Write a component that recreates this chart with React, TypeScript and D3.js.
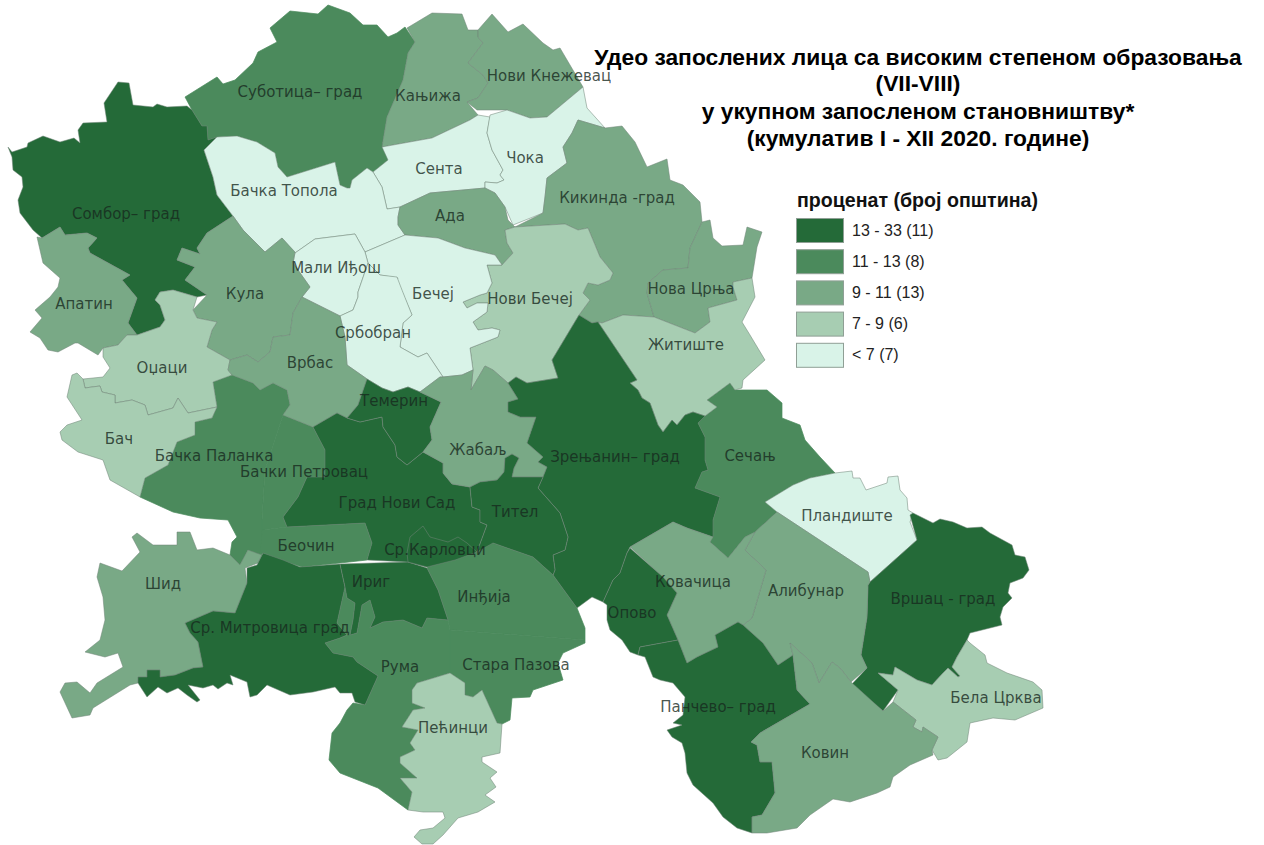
import React from "react";
import * as d3 from "d3";

const titleLines = [
  "Удео запослених лица са високим степеном образовања",
  "(VII-VIII)",
  "у укупном запосленом становништву*",
  "(кумулатив I - XII 2020. године)",
];
const legendTitle = "проценат (број општина)";
const classes = ["13 - 33 (11)", "11 - 13 (8)", "9 - 11 (13)", "7 - 9 (6)", "< 7 (7)"];
const classColors = ["#246a38", "#4b8a5c", "#79a986", "#a7cdb2", "#d9f3e8"];

const municipalities: [string, number, string][] = [
  ["Суботица– град", 1, "185,97 217,77 223,84 235,80 253,63 258,52 277,42 270,28 290,11 318,14 328,5 350,13 363,25 377,25 388,37 397,33 405,27 415,42 408,53 403,80 387,117 382,147 383,143 388,160 373,172 367,168 352,180 350,188 347,188 340,185 335,162 287,177 278,167 275,153 257,142 237,136 217,137 208,140 207,126 202,126 192,110"],
  ["Бачка Паланка", 1, "213,382 232,375 253,383 260,390 273,383 287,390 290,405 283,415 265,470 262,520 265,530 260,557 248,550 240,565 230,555 232,542 237,537 228,520 200,518 173,512 140,497 145,478 168,465 177,442 195,435 195,422 212,418 217,407"],
  ["Бачки Петровац", 1, "283,415 313,427 325,450 325,477 307,477 298,497 283,517 287,527 262,530 262,520 265,470"],
  ["Беочин", 1, "262,530 287,527 365,523 372,543 367,560 340,563 302,567 280,560 263,553 260,557"],
  ["Рума", 1, "345,587 347,598 355,603 353,620 350,635 357,633 362,605 370,600 375,617 370,628 383,622 403,620 422,628 427,618 448,620 450,630 450,673 417,683 412,690 412,703 425,708 413,710 402,727 418,730 410,743 415,750 400,757 400,763 417,778 400,778 412,792 408,810 378,788 340,773 329,760 332,733 340,723 347,710 353,703 365,705 378,676 357,662 353,657 333,653 325,643 340,638 347,635 337,623"],
  ["Инђија", 1, "427,568 438,555 460,548 493,543 513,550 533,557 553,575 577,608 585,628 585,640 450,630 448,620 438,590"],
  ["Стара Пазова", 1, "450,630 585,640 585,643 563,653 558,663 563,680 533,690 530,697 512,698 510,720 502,724 497,723 482,690 473,697 465,695 465,683 450,673"],
  ["Сечањ", 1, "707,400 730,383 735,390 743,390 767,390 782,403 782,418 800,425 805,440 820,457 835,473 810,478 793,485 765,502 777,512 755,532 745,537 728,558 710,542 713,537 713,520 720,497 695,488 702,472 708,470 705,460 705,437 698,423 705,416 717,407"],
  ["Сомбор– град", 0, "8,147 12,152 27,147 28,143 43,136 60,142 74,138 80,143 78,130 83,123 107,122 104,103 118,82 129,83 133,105 153,107 157,104 167,107 187,106 192,110 202,126 207,126 208,140 217,137 204,150 213,177 217,195 233,216 207,233 197,248 200,254 182,248 177,260 195,267 185,280 207,295 197,297 173,290 160,292 155,300 160,305 165,320 160,327 137,335 128,323 137,298 122,280 130,275 90,253 88,248 97,238 87,233 65,235 60,227 42,238 33,230 20,213 18,200 23,187 22,177 13,170 12,157"],
  ["Кањижа", 2, "407,28 432,13 462,14 468,30 478,30 478,37 483,43 468,63 483,75 488,83 478,98 467,102 478,115 470,120 432,138 382,147 387,117 403,80 408,53 415,42"],
  ["Нови Кнежевац", 2, "478,30 492,14 508,32 523,24 543,43 553,50 560,48 570,65 583,87 547,117 530,118 507,110 477,110 467,102 478,98 488,83 483,75 468,63 483,43 478,37"],
  ["Сента", 4, "478,115 490,117 487,133 492,150 503,170 500,175 504,180 497,183 485,182 485,188 430,193 400,207 388,209 387,209 382,187 373,172 388,160 382,147 432,138 470,120"],
  ["Чока", 4, "490,115 507,110 530,118 547,117 583,87 587,108 605,128 578,120 572,133 563,147 567,163 547,178 545,197 543,213 513,225 505,207 495,193 485,188 485,182 497,183 504,180 500,175 503,170 492,150 487,133"],
  ["Бачка Топола", 4, "204,150 217,137 237,136 257,142 275,153 278,167 287,177 335,162 340,185 347,188 350,188 352,180 367,168 373,172 382,187 387,209 400,207 398,217 398,225 405,235 365,252 355,234 315,239 295,253 282,238 265,252 243,230 233,216 217,195 213,177"],
  ["Ада", 2, "400,207 430,193 485,188 495,193 505,207 508,220 515,227 505,230 507,243 513,253 502,265 495,255 465,248 438,238 405,235 398,225 398,217"],
  ["Кикинда -град", 2, "578,120 605,128 622,126 635,142 647,167 667,159 670,180 683,185 700,202 702,222 690,248 688,268 663,270 648,283 647,293 654,317 623,315 602,323 597,322 592,323 579,315 590,300 583,293 588,283 598,285 610,280 613,273 600,257 588,228 578,230 565,224 515,227 543,213 545,197 547,178 567,163 563,147 572,133"],
  ["Нова Црња", 2, "702,222 710,220 713,238 722,246 743,245 747,227 762,232 757,247 752,278 733,282 733,287 737,300 708,308 710,322 695,333 654,317 647,293 648,283 663,270 688,268 690,248"],
  ["Житиште", 3, "752,278 755,297 742,322 750,335 765,360 743,380 742,388 735,390 730,383 707,400 717,407 705,416 693,412 685,415 677,425 672,420 663,432 658,425 650,403 642,398 638,390 630,383 637,380 598,322 602,323 623,315 654,317 695,333 710,322 708,308 737,300 733,287 733,282"],
  ["Нови Бечеј", 3, "515,227 565,224 578,230 588,228 600,257 613,273 610,280 598,285 588,283 583,293 590,300 579,315 552,360 558,378 527,383 516,377 508,383 493,370 485,366 471,390 473,370 470,348 498,337 500,330 492,328 478,330 473,322 487,312 488,303 477,303 467,308 463,302 480,295 487,293 492,283 487,265 502,265 513,253 507,243 505,230"],
  ["Бечеј", 4, "365,252 405,235 438,238 465,248 495,255 502,265 487,265 492,283 487,293 480,295 463,302 467,308 477,303 488,303 487,312 473,322 478,330 492,328 500,330 498,337 470,348 473,370 462,375 443,377 427,353 418,357 400,347 403,323 412,315 397,280 398,278 380,275 368,263"],
  ["Мали Иђош", 4, "295,253 315,239 355,234 365,252 368,263 358,292 358,297 353,310 340,316 302,297 310,287 293,263"],
  ["Србобран", 4, "340,316 353,310 358,297 358,292 368,263 380,275 397,277 402,290 412,315 403,323 400,347 418,357 427,353 443,377 440,377 420,392 408,387 393,392 382,388 367,379 347,365 345,337"],
  ["Кула", 2, "233,216 243,230 265,252 282,238 295,252 293,263 310,287 302,297 293,313 290,335 273,337 270,352 258,362 247,355 230,360 207,347 212,330 217,322 197,318 193,310 207,295 185,280 195,267 177,260 182,248 200,254 197,248 207,233"],
  ["Апатин", 2, "37,237 42,238 60,227 65,235 87,233 97,238 88,248 90,253 130,275 122,280 137,298 128,323 137,335 127,335 118,345 103,348 98,355 78,343 75,343 58,352 48,350 40,338 30,332 42,318 35,310 50,297 58,287 60,278 43,263"],
  ["Оџаци", 3, "137,335 160,327 165,320 160,305 155,300 160,292 173,290 197,297 193,310 197,318 217,322 212,330 207,347 230,360 228,370 232,375 213,382 217,407 188,413 178,398 173,408 148,415 145,405 132,400 115,403 115,395 102,392 100,386 92,387 85,388 83,379 103,377 110,368 103,357 103,348 118,345 127,335"],
  ["Бач", 3, "72,375 77,373 83,379 85,388 92,387 100,386 102,392 115,395 115,403 132,400 145,405 148,415 173,408 178,398 188,413 217,407 212,418 195,422 195,435 177,442 168,465 145,478 140,497 110,480 103,460 78,452 62,440 60,432 67,425 82,420 67,397"],
  ["Врбас", 2, "302,297 340,316 345,337 347,365 367,379 358,405 347,418 337,413 313,427 283,415 290,405 287,390 273,383 260,390 253,383 232,375 228,370 230,360 247,355 258,362 270,352 273,337 290,335 293,313"],
  ["Шид", 2, "100,563 122,571 140,552 132,537 137,533 153,545 177,545 177,532 190,532 197,550 213,548 230,555 240,565 248,550 262,555 258,563 245,568 247,583 235,613 213,611 185,623 190,633 198,642 203,667 193,668 175,675 160,677 160,670 147,670 147,677 138,677 138,683 130,685 93,708 90,715 72,718 60,692 65,683 77,682 90,693 97,683 110,675 123,667 118,653 105,657 85,652 100,640 105,620 103,597 97,577"],
  ["Ср. Митровица град", 0, "263,553 283,560 300,567 340,564 345,587 337,623 347,635 340,638 325,643 333,653 353,657 357,662 378,676 365,705 355,702 352,693 340,693 335,687 313,692 290,695 267,685 257,695 250,697 247,682 230,675 233,685 227,683 218,689 213,685 203,688 188,685 200,700 197,702 187,695 178,688 167,693 158,687 147,697 138,683 138,677 147,677 147,670 160,670 160,677 175,675 193,668 203,667 198,642 190,633 185,623 213,611 235,613 247,583 247,568 257,565"],
  ["Ириг", 0, "340,564 408,562 427,568 438,590 448,620 427,618 422,628 403,620 383,622 370,628 375,617 370,600 362,605 357,633 350,635 353,620 355,603 347,598 345,587"],
  ["Град Нови Сад", 0, "313,427 337,413 347,418 360,422 382,417 383,427 395,445 397,457 407,465 423,452 443,463 443,473 452,484 470,487 472,507 480,510 480,522 487,525 477,552 427,567 408,562 367,560 372,543 365,523 287,527 283,517 298,497 307,477 325,477 325,450"],
  ["Ср.Карловци", 0, "410,537 423,526 430,537 448,542 458,537 467,543 477,552 455,560 427,567 408,562 407,553"],
  ["Темерин", 0, "367,379 382,388 393,392 408,387 420,392 441,402 430,427 432,440 423,452 407,465 397,457 395,445 383,427 382,417 360,422 347,418 358,405"],
  ["Жабаљ", 2, "420,392 440,377 443,377 462,375 473,370 471,390 485,366 493,370 508,383 518,399 508,402 508,412 520,417 536,417 527,443 543,457 538,462 547,467 543,477 512,477 514,468 519,458 512,454 505,458 504,472 497,480 480,482 470,487 452,484 443,473 443,463 423,452 432,440 430,427 441,402"],
  ["Зрењанин– град", 0, "579,315 592,323 597,322 598,322 637,380 630,383 638,390 642,398 650,403 658,425 663,432 672,420 677,425 685,415 693,412 705,416 698,423 705,437 705,460 708,470 702,472 695,488 720,497 713,520 713,537 687,528 673,522 630,547 627,553 620,573 613,580 603,602 592,597 577,608 553,575 555,570 553,555 565,550 568,537 560,513 538,488 543,477 547,467 538,462 543,457 527,443 536,417 520,417 508,412 508,402 518,399 508,383 516,377 527,383 558,378 552,360"],
  ["Тител", 0, "470,487 480,482 497,480 504,472 505,458 512,454 519,458 514,468 512,477 543,477 538,488 560,513 568,537 565,550 553,555 555,570 553,575 533,557 513,550 493,543 477,552 487,525 480,522 480,510 472,507"],
  ["Пландиште", 4, "765,502 793,485 810,478 835,473 852,471 853,478 860,478 866,490 887,483 888,477 898,476 900,490 907,498 908,510 913,513 910,522 917,540 870,582 868,572 777,512"],
  ["Вршац - град", 0, "910,515 913,513 933,523 940,519 953,522 967,528 982,527 990,533 1012,545 1015,555 1025,557 1029,570 1023,578 1010,583 1008,593 1012,598 1003,607 1000,617 1002,625 990,628 970,633 967,640 957,657 952,667 960,676 958,677 948,668 943,673 932,685 917,680 895,667 893,675 878,673 898,690 883,711 851,685 867,668 861,655 867,617 868,585 870,582 917,540"],
  ["Бела Црква", 3, "967,640 970,643 985,655 987,663 1007,673 1033,682 1042,690 1043,708 1015,720 993,718 970,723 967,742 947,758 938,760 932,750 938,737 923,727 922,732 913,727 916,720 893,702 898,690 878,673 893,675 895,667 917,680 932,685 943,673 948,668 958,677 960,676 952,667 957,657"],
  ["Алибунар", 2, "777,512 868,572 870,582 868,585 867,617 861,655 867,668 851,682 840,668 832,662 819,683 812,663 790,643 793,655 778,665 763,643 743,625 752,618 766,570 752,557 745,550 755,532"],
  ["Ковачица", 2, "630,547 673,522 687,528 713,537 710,542 728,558 745,537 755,532 745,550 752,557 766,570 752,618 743,625 738,622 715,635 718,647 697,657 687,663 678,640 667,615 677,593 663,577"],
  ["Опово", 0, "630,548 663,577 677,593 667,615 678,640 640,647 638,655 630,652 622,640 610,630 607,620 607,605 603,602 613,580 620,573 627,553"],
  ["Панчево– град", 0, "738,622 743,625 763,643 778,665 793,655 797,690 810,704 760,733 751,742 757,745 760,762 772,762 775,793 762,815 752,817 752,833 737,828 723,817 713,803 693,785 687,773 685,753 682,743 672,737 667,730 682,725 673,723 683,715 685,697 673,683 660,680 653,677 645,657 638,655 640,647 678,640 687,663 697,657 718,647 715,635"],
  ["Ковин", 2, "793,655 790,643 812,663 819,683 832,662 840,668 851,682 883,711 893,702 916,720 913,727 922,732 923,727 938,737 932,750 933,755 910,765 893,777 890,787 877,793 850,802 833,799 810,815 797,828 767,833 752,833 752,817 762,815 775,793 772,762 760,762 757,745 751,742 760,733 810,704 797,690"],
  ["Пећинци", 3, "412,690 417,683 450,673 465,683 465,695 473,697 482,690 497,723 502,724 500,753 482,757 482,762 497,772 490,778 496,787 485,795 495,802 478,812 458,818 443,835 433,844 422,844 414,837 420,830 433,828 445,818 443,812 423,812 408,810 412,792 400,778 417,778 400,763 400,757 415,750 410,743 418,730 402,727 413,710 425,708 412,703"],
];

const labels: [string, number, number][] = [
  ["Суботица– град", 300, 92], ["Кањижа", 428, 96], ["Нови Кнежевац", 549, 76], ["Сента", 439, 169],
  ["Чока", 525, 158], ["Бачка Топола", 284, 191], ["Сомбор– град", 126, 214], ["Кикинда -град", 617, 198],
  ["Ада", 450, 216], ["Мали Иђош", 336, 268], ["Кула", 245, 294], ["Апатин", 84, 304], ["Бечеј", 433, 294],
  ["Нови Бечеј", 530, 299], ["Нова Црња", 691, 289], ["Србобран", 373, 333], ["Оџаци", 162, 368],
  ["Врбас", 310, 363], ["Житиште", 686, 345], ["Темерин", 394, 401], ["Бач", 119, 439],
  ["Бачка Паланка", 214, 456], ["Жабаљ", 478, 450], ["Зрењанин– град", 615, 457], ["Сечањ", 750, 456],
  ["Бачки Петровац", 304, 472], ["Град Нови Сад", 397, 503], ["Тител", 515, 512], ["Беочин", 306, 546],
  ["Ср.Карловци", 435, 550], ["Пландиште", 847, 516], ["Ковачица", 693, 582], ["Алибунар", 806, 591],
  ["Шид", 163, 584], ["Ириг", 371, 582], ["Инђија", 484, 597], ["Вршац - град", 943, 599], ["Опово", 632, 613],
  ["Ср. Митровица град", 270, 628], ["Рума", 400, 667], ["Стара Пазова", 516, 665], ["Бела Црква", 996, 698],
  ["Панчево– град", 718, 707], ["Пећинци", 453, 728], ["Ковин", 825, 753],
];

const parseRing = (s: string) => {
  const pts = s.split(" ").map((p) => p.split(",").map(Number));
  return [...pts, pts[0]];
};

export default function App() {
  const color = d3.scaleOrdinal<number, string>().domain(d3.range(classes.length)).range(classColors);
  const path = d3.geoPath(d3.geoIdentity());
  const legendY = d3.scaleBand<number>().domain(d3.range(classes.length)).range([218, 374]).paddingInner(0);
  return (
    <svg
      width={1264}
      height={845}
      viewBox="0 0 1264 845"
      style={{ position: "absolute", left: 0, top: 0, background: "#fff" }}
    >
      <g>
        {municipalities.map(([name, cls, ring]) => (
          <path
            key={name}
            d={path({ type: "Polygon", coordinates: [parseRing(ring)] } as any) || ""}
            fill={color(cls)}
            stroke={cls === 1 ? color(cls) : "#6f8476"}
            strokeOpacity={cls === 1 ? 1 : 0.75}
            strokeWidth={0.7}
            strokeLinejoin="round"
          />
        ))}
      </g>
      <g fontFamily="'DejaVu Sans'" fontSize={15} fill="#17291e" fillOpacity={0.8} textAnchor="middle" dominantBaseline="central">
        {labels.map(([t, x, y]) => (
          <text key={t} x={x} y={y}>{t}</text>
        ))}
      </g>
      <g fontFamily="'Liberation Sans'" fontWeight="bold" fontSize={22.8} fill="#000" textAnchor="middle">
        {titleLines.map((t, i) => (
          <text key={t} x={918} y={[65, 91, 119, 146][i]}>{t}</text>
        ))}
      </g>
      <text x={797} y={207} fontFamily="'Liberation Sans'" fontWeight="bold" fontSize={19.6} fill="#111">{legendTitle}</text>
      <g fontFamily="'Liberation Sans'" fontSize={16} fill="#222">
        {classes.map((c, i) => (
          <g key={c} transform={`translate(0,${legendY(i)})`}>
            <rect x={796.5} y={0.5} width={47} height={24} fill={classColors[i]} stroke="#8f9f95" strokeWidth={1} />
            <text x={852} y={12} dominantBaseline="central">{c}</text>
          </g>
        ))}
      </g>
    </svg>
  );
}
